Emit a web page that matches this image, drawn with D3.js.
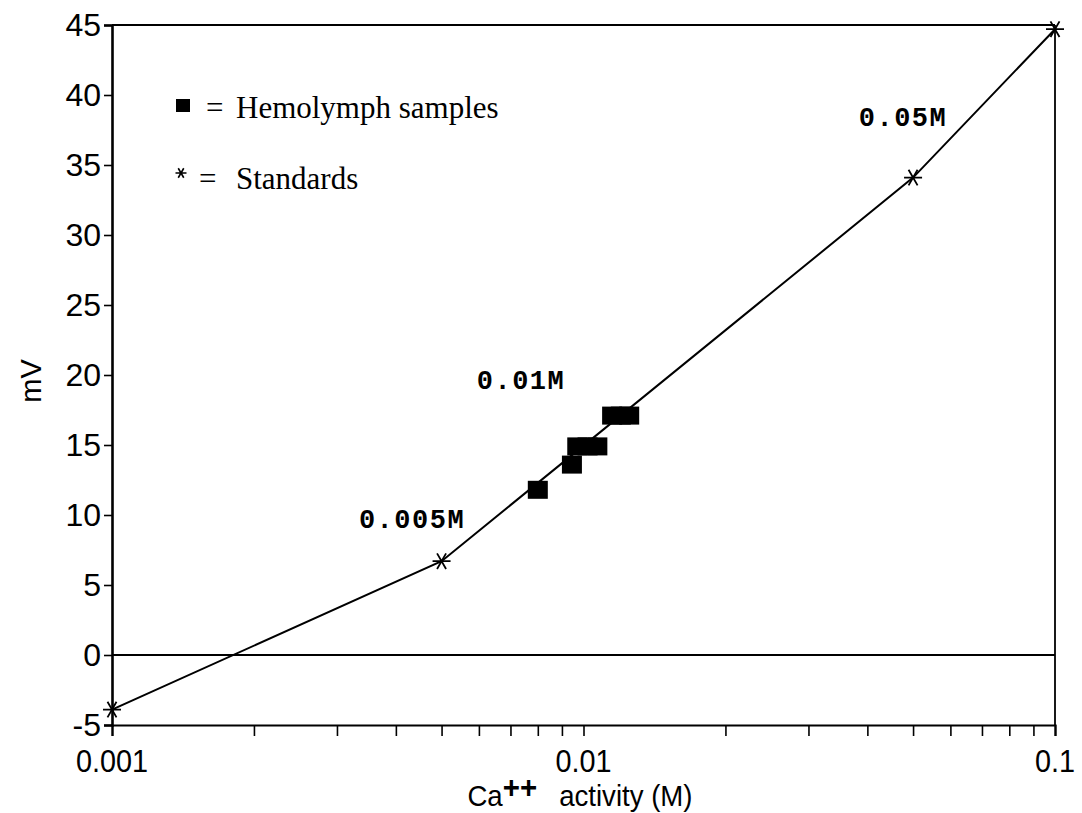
<!DOCTYPE html>
<html>
<head>
<meta charset="utf-8">
<script src="https://cdn.jsdelivr.net/npm/d3@7"></script>
<style>
  html, body { margin: 0; padding: 0; background: #fff; }
  svg { display: block; }
</style>
</head>
<body>
<svg id="chart" width="1082" height="813"></svg>
<script>
// ---- data ----
const standardConc = [0.001, 0.005, 0.05, 0.1];
const standardMV   = [-3.9, 6.7, 34.1, 44.7];
const standardLabels = ["", "0.005M", "0.05M", ""];
const sampleConc = [0.0080, 0.00945, 0.0097, 0.0102, 0.0107, 0.0115, 0.0120, 0.0125];
const sampleMV   = [11.8, 13.6, 14.9, 14.9, 14.9, 17.1, 17.1, 17.1];
const yTicks = [-5, 0, 5, 10, 15, 20, 25, 30, 35, 40, 45];
const xMajorTicks = [0.001, 0.01, 0.1];
const xMajorLabels = ["0.001", "0.01", "0.1"];
const extraLabel = {text: "0.01M"};
const legendItems = ["Hemolymph samples", "Standards"];

// ---- layout ----
const svg = d3.select("#chart");
const L = 112, R = 1055, T = 25, B = 725;
const x = d3.scaleLog().domain([0.001, 0.1]).range([L, R]);
const y = d3.scaleLinear().domain([-5, 45]).range([B, T]);
const sans = "'Liberation Sans', Arial, sans-serif";

// frame
svg.append("line").attr("x1", L).attr("x2", R).attr("y1", T).attr("y2", T)
  .attr("stroke", "#000").attr("stroke-width", 1.8);
svg.append("line").attr("x1", R).attr("x2", R).attr("y1", T).attr("y2", B)
  .attr("stroke", "#000").attr("stroke-width", 1.8);

// zero line
svg.append("line").attr("x1", L).attr("x2", R).attr("y1", y(0)).attr("y2", y(0))
  .attr("stroke", "#000").attr("stroke-width", 1.8);

// y axis
const yAxis = d3.axisLeft(y).tickValues(yTicks).tickSize(8).tickFormat(d3.format("d"));
const gy = svg.append("g").attr("transform", `translate(${L},0)`).call(yAxis);
gy.select(".domain").attr("stroke-width", 2.6);
gy.selectAll(".tick line").attr("stroke-width", 1.6);
gy.selectAll(".tick text")
  .attr("font-family", sans)
  .attr("font-size", 32).attr("fill", "#000").attr("x", -11)
  .text(d => d < 0 ? "-" + Math.abs(d) : d);

// x axis
const xMinor = [];
[0.001, 0.01].forEach(dec => { for (let k = 2; k <= 9; k++) xMinor.push(dec * k); });
const xAxis = d3.axisBottom(x).tickValues(xMinor.concat(xMajorTicks)).tickSize(11).tickFormat("");
const gx = svg.append("g").attr("transform", `translate(0,${B})`).call(xAxis);
gx.select(".domain").attr("stroke-width", 2.2);
gx.selectAll(".tick line").attr("stroke-width", 1.6);
svg.append("g").selectAll("text").data(xMajorTicks).join("text")
  .attr("x", d => x(d)).attr("y", 772)
  .attr("text-anchor", "middle")
  .attr("font-family", sans)
  .attr("font-size", 31)
  .attr("transform", d => `translate(${x(d)},0) scale(0.93,1) translate(${-x(d)},0)`)
  .text((d, i) => xMajorLabels[i]);

// axis titles
const xt = svg.append("text").attr("x", 580).attr("y", 806).attr("text-anchor", "middle")
  .attr("font-family", sans).attr("font-size", 30)
  .attr("transform", "translate(580,0) scale(0.92,1) translate(-580,0)");
xt.append("tspan").text("Ca");
xt.append("tspan").attr("dy", -8).attr("font-weight", "bold").attr("font-size", 32).text("++");
xt.append("tspan").attr("dy", 8).attr("dx", 24).text("activity (M)");

svg.append("text").attr("transform", "translate(41,381) rotate(-90)")
  .attr("text-anchor", "middle")
  .attr("font-family", sans).attr("font-size", 29)
  .text("mV");

// line through standards
const pts = standardConc.map((c, i) => [c, standardMV[i]]);
svg.append("path").datum(pts)
  .attr("d", d3.line().x(d => x(d[0])).y(d => y(d[1])))
  .attr("fill", "none").attr("stroke", "#000").attr("stroke-width", 2);

// star marker
function starPath(cx, cy, r) {
  const a = Math.PI / 3;
  let p = `M${cx - r},${cy}L${cx + r},${cy}`;
  p += `M${cx - r * Math.cos(a)},${cy - r * Math.sin(a)}L${cx + r * Math.cos(a)},${cy + r * Math.sin(a)}`;
  p += `M${cx + r * Math.cos(a)},${cy - r * Math.sin(a)}L${cx - r * Math.cos(a)},${cy + r * Math.sin(a)}`;
  return p;
}
svg.append("g").selectAll("path").data(pts).join("path")
  .attr("d", d => starPath(x(d[0]), y(d[1]), 9))
  .attr("stroke", "#000").attr("stroke-width", 1.8).attr("fill", "none");

// samples
const sq = 20, sqh = 18;
svg.append("g").selectAll("rect").data(sampleConc.map((c, i) => [c, sampleMV[i]])).join("rect")
  .attr("x", d => x(d[0]) - sq / 2).attr("y", d => y(d[1]) - sqh / 2)
  .attr("width", sq).attr("height", sqh).attr("fill", "#000");

// standard labels
const monoFont = "'Liberation Mono', 'Courier New', monospace";
const lblPos = [null, [412, 528], [903, 126], null];
svg.append("g").selectAll("text").data(standardLabels.map((t, i) => ({t, p: lblPos[i]})).filter(d => d.t))
  .join("text")
  .attr("x", d => d.p[0]).attr("y", d => d.p[1]).attr("text-anchor", "middle")
  .attr("font-family", monoFont).attr("font-size", 27).attr("font-weight", "bold")
  .attr("letter-spacing", 1.5)
  .text(d => d.t);
svg.append("text").attr("x", 521).attr("y", 389).attr("text-anchor", "middle")
  .attr("font-family", monoFont).attr("font-size", 27).attr("font-weight", "bold")
  .attr("letter-spacing", 1.5)
  .text(extraLabel.text);

// legend
const serif = "'Liberation Serif', 'Times New Roman', serif";
svg.append("rect").attr("x", 176).attr("y", 99).attr("width", 14).attr("height", 13).attr("fill", "#000");
svg.append("path").attr("d", starPath(181, 173, 5.5)).attr("stroke", "#000").attr("stroke-width", 1.6);
svg.append("text").attr("x", 206).attr("y", 118).attr("font-family", serif).attr("font-size", 31).text("=");
svg.append("text").attr("x", 199).attr("y", 189).attr("font-family", serif).attr("font-size", 31).text("=");
svg.append("text").attr("x", 236).attr("y", 118).attr("font-family", serif).attr("font-size", 31)
  .text(legendItems[0]);
svg.append("text").attr("x", 236).attr("y", 189).attr("font-family", serif).attr("font-size", 31)
  .text(legendItems[1]);
</script>
</body>
</html>
